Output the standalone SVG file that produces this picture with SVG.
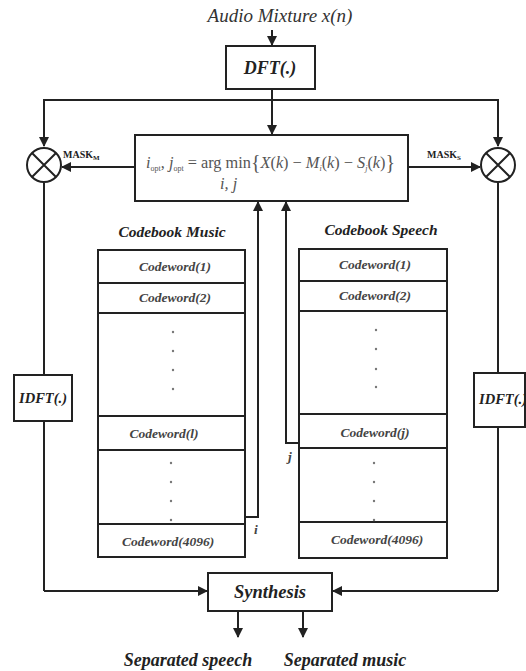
<svg xmlns="http://www.w3.org/2000/svg" width="526" height="671" viewBox="0 0 526 671">
<defs>
<marker id="ah" viewBox="0 0 10 10" refX="9" refY="5" markerWidth="5" markerHeight="5" orient="auto" markerUnits="strokeWidth">
<path d="M0,0 L10,5 L0,10 z" fill="#222"/>
</marker>
</defs>
<style>
.box{fill:#fff;stroke:#222;stroke-width:2}
.ln{fill:none;stroke:#222;stroke-width:2}
.arr{fill:none;stroke:#222;stroke-width:2;marker-end:url(#ah)}
.bi{font-family:"Liberation Serif",serif;font-weight:bold;font-style:italic;fill:#222;text-anchor:middle}
.cw{font-family:"Liberation Serif",serif;font-weight:bold;font-style:italic;fill:#444;text-anchor:middle;font-size:13.5px}
.dot{fill:#777}
.eq{font-family:"Liberation Serif",serif;fill:#555;font-size:16.3px}
.mask{font-family:"Liberation Serif",serif;font-weight:bold;fill:#222;font-size:10px}
</style>
<rect width="526" height="671" fill="#fff"/>
<g id="connectors">
<path class="arr" d="M272,30 V45"/>
<path class="arr" d="M272,89 V134"/>
<path class="ln" d="M44,146 V100 H498 V146"/>
<path class="arr" d="M44,110 V146"/>
<path class="arr" d="M498,110 V146"/>
<path class="arr" d="M135,167 H62"/>
<path class="arr" d="M408,167 H480"/>
<path class="ln" d="M44,183 V375 M44,421 V591"/>
<path class="ln" d="M498,183 V373 M498,427 V591"/>
<path class="arr" d="M44,591 H207"/>
<path class="arr" d="M498,591 H333"/>
<path class="arr" d="M238,611 V637"/>
<path class="arr" d="M303,611 V637"/>
<path class="arr" d="M245,517 H258 V202"/>
<path class="arr" d="M299,443 H286 V202"/>
</g>
<g id="input-label"><text x="280" y="22" font-family="'Liberation Serif',serif" font-style="italic" font-size="19" fill="#333" text-anchor="middle">Audio Mixture x(n)</text></g>
<g id="dft"><rect class="box" x="226" y="46" width="89" height="43"/><text class="bi" x="270" y="74" font-size="18">DFT(.)</text></g>
<g id="argmin">
<rect class="box" x="135" y="135" width="273" height="66"/>
<text class="eq" x="146" y="168"><tspan font-style="italic">i</tspan><tspan font-size="8" dy="3">opt</tspan><tspan dy="-3">, </tspan><tspan font-style="italic">j</tspan><tspan font-size="8" dy="3">opt</tspan><tspan dy="-3"> = arg min</tspan><tspan font-size="20" dy="1">{</tspan><tspan dy="-1" font-style="italic">X</tspan><tspan>(</tspan><tspan font-style="italic">k</tspan><tspan>) − </tspan><tspan font-style="italic">M</tspan><tspan font-style="italic" font-size="8" dy="3">i</tspan><tspan dy="-3">(</tspan><tspan font-style="italic">k</tspan><tspan>) − </tspan><tspan font-style="italic">S</tspan><tspan font-style="italic" font-size="8" dy="3">j</tspan><tspan dy="-3">(</tspan><tspan font-style="italic">k</tspan><tspan>)</tspan><tspan font-size="20" dy="1">}</tspan></text>
<text class="eq" x="220" y="189" font-style="italic">i, j</text>
</g>
<g id="mult-m"><circle class="box" cx="44" cy="165" r="17"/><path class="ln" d="M32,153 L56,177 M56,153 L32,177"/></g>
<g id="mult-s"><circle class="box" cx="498" cy="165" r="17"/><path class="ln" d="M486,153 L510,177 M510,153 L486,177"/></g>
<g id="mask-m-label"><text class="mask" x="63" y="158">MASK<tspan font-size="7" dy="2">M</tspan></text></g>
<g id="mask-s-label"><text class="mask" x="427" y="158">MASK<tspan font-size="7" dy="2">S</tspan></text></g>
<g id="codebook-music">
<text class="bi" x="172" y="237" font-size="15.5">Codebook Music</text>
<rect class="box" x="98" y="250" width="147" height="307"/>
<path class="ln" d="M98,283 H245 M98,313 H245 M98,416 H245 M98,450 H245 M98,524 H245"/>
<text class="cw" x="175" y="271">Codeword(1)</text>
<text class="cw" x="175" y="302">Codeword(2)</text>
<circle class="dot" cx="173" cy="332" r="1.2"/><circle class="dot" cx="173" cy="351" r="1.2"/><circle class="dot" cx="173" cy="370" r="1.2"/><circle class="dot" cx="173" cy="389" r="1.2"/>
<text class="cw" x="164" y="438">Codeword(l)</text>
<circle class="dot" cx="171" cy="463" r="1.2"/><circle class="dot" cx="171" cy="482" r="1.2"/><circle class="dot" cx="171" cy="501" r="1.2"/><circle class="dot" cx="171" cy="520" r="1.2"/>
<text class="cw" x="168" y="546">Codeword(4096)</text>
</g>
<g id="codebook-speech">
<text class="bi" x="381" y="235" font-size="15.5">Codebook Speech</text>
<rect class="box" x="299" y="249" width="148" height="309"/>
<path class="ln" d="M299,281 H447 M299,311 H447 M299,414 H447 M299,448 H447 M299,522 H447"/>
<text class="cw" x="375" y="269">Codeword(1)</text>
<text class="cw" x="375" y="300">Codeword(2)</text>
<circle class="dot" cx="376" cy="330" r="1.2"/><circle class="dot" cx="376" cy="349" r="1.2"/><circle class="dot" cx="376" cy="369" r="1.2"/><circle class="dot" cx="376" cy="387" r="1.2"/>
<text class="cw" x="375" y="437">Codeword(j)</text>
<circle class="dot" cx="374" cy="463" r="1.2"/><circle class="dot" cx="374" cy="482" r="1.2"/><circle class="dot" cx="374" cy="501" r="1.2"/><circle class="dot" cx="374" cy="520" r="1.2"/>
<text class="cw" x="377" y="544">Codeword(4096)</text>
</g>
<g id="index-labels">
<text class="cw" x="256" y="534" font-size="12">i</text>
<text class="cw" x="290" y="461" font-size="12">j</text>
</g>
<g id="idft-left"><rect class="box" x="14" y="375" width="58" height="46"/><text class="bi" x="43" y="403" font-size="14.5">IDFT(.)</text></g>
<g id="idft-right"><rect class="box" x="474" y="373" width="51" height="54"/><text class="bi" x="503" y="404" font-size="14.5">IDFT(.)</text></g>
<g id="synthesis"><rect class="box" x="208" y="573" width="124" height="38"/><text class="bi" x="270" y="598" font-size="18.5">Synthesis</text></g>
<g id="outputs">
<text class="bi" x="188" y="666" font-size="18">Separated speech</text>
<text class="bi" x="345" y="666" font-size="18">Separated music</text>
</g>
</svg>
